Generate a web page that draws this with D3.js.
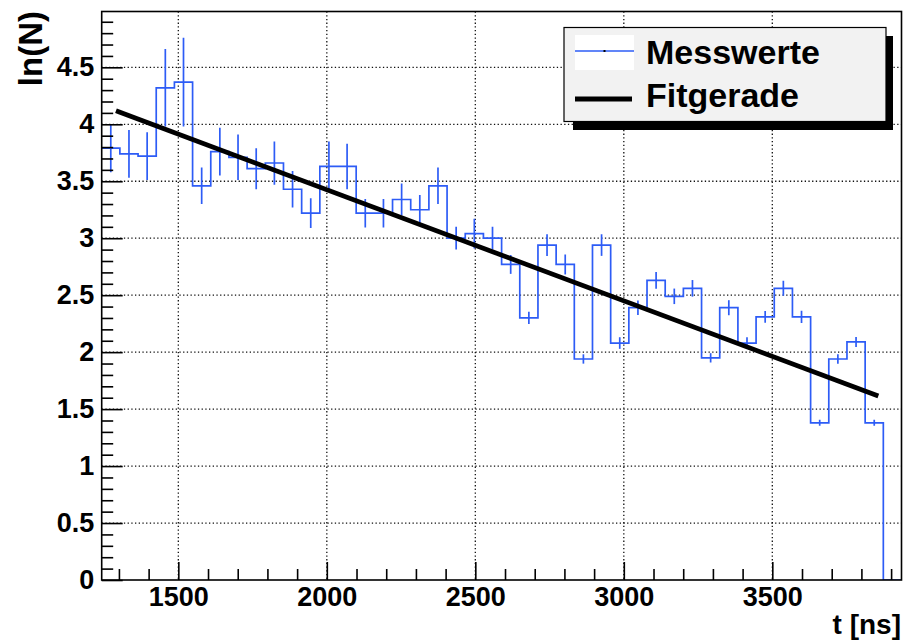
<!DOCTYPE html>
<html>
<head>
<meta charset="utf-8">
<script src="https://cdn.jsdelivr.net/npm/d3@7"></script>
<style>
  html, body { margin: 0; padding: 0; background: #fff; }
  svg { display: block; font-family: "Liberation Sans", Arial, Helvetica, sans-serif; font-weight: bold; }
</style>
</head>
<body>
<svg id="chart" width="904" height="642"></svg>
<script>
// Histogram binning: 44 equal bins between histLow and histHigh (ns)
const histLow = 1242;
const histHigh = 3935;
const nBins = 44;

// ln(N) per bin
const lnN = [
  3.79, 3.74, 3.72, 4.32, 4.37, 3.46, 3.76, 3.71, 3.61, 3.66,
  3.43, 3.22, 3.63, 3.63, 3.22, 3.22, 3.34, 3.25, 3.46, 3.00,
  3.04, 3.00, 2.77, 2.30, 2.94, 2.77, 1.94, 2.94, 2.08, 2.39,
  2.63, 2.49, 2.56, 1.95, 2.39, 2.08, 2.31, 2.56, 2.31, 1.38,
  1.94, 2.09, 1.38, 0
];

// Error of ln(N) per bin
const lnNErr = [
  0.21, 0.21, 0.21, 0.34, 0.39, 0.16, 0.21, 0.20, 0.18, 0.19,
  0.16, 0.13, 0.22, 0.20, 0.125, 0.125, 0.14, 0.13, 0.16, 0.10,
  0.13, 0.10, 0.083, 0.054, 0.095, 0.088, 0.041, 0.095, 0.051, 0.063,
  0.073, 0.068, 0.073, 0.041, 0.066, 0.051, 0.051, 0.066, 0.054, 0.026,
  0.041, 0.044, 0.026, 0
];

// Straight-line fit: end points (t in ns, ln N)
const fitT = [1290, 3857];
const fitLnN = [4.118, 1.615];

// Axis ticks
const xMajorTicks = [1500, 2000, 2500, 3000, 3500];
const yMajorTicks = [0, 0.5, 1, 1.5, 2, 2.5, 3, 3.5, 4, 4.5];
const yLabels = ["0", "0.5", "1", "1.5", "2", "2.5", "3", "3.5", "4", "4.5"];

const legendLabels = ["Messwerte", "Fitgerade"];
const xTitle = "t [ns]";
const yTitle = "ln(N)";

// ---------------------------------------------------------------
const svg = d3.select("#chart");
const frame = { left: 101.7, right: 901.5, top: 11.5, bottom: 580 };
const yMax = 4.99;

const x = d3.scaleLinear().domain([histLow, histHigh]).range([frame.left, frame.right]);
const y = d3.scaleLinear().domain([0, yMax]).range([frame.bottom, frame.top]);

const binWidth = (histHigh - histLow) / nBins;
const bins = lnN.map((v, i) => ({
  lo: histLow + i * binWidth,
  hi: histLow + (i + 1) * binWidth,
  mid: histLow + (i + 0.5) * binWidth,
  v: v,
  e: lnNErr[i]
}));

const blue = "#2d5cf6";

// Dotted grid at the major ticks
const grid = svg.append("g").attr("stroke", "#111").attr("stroke-width", 1.3)
  .attr("stroke-dasharray", "1.3,2.4");
grid.selectAll("line.gx").data(xMajorTicks).join("line")
  .attr("x1", d => x(d)).attr("x2", d => x(d))
  .attr("y1", frame.top).attr("y2", frame.bottom);
grid.selectAll("line.gy").data(yMajorTicks.filter(d => d > 0)).join("line")
  .attr("x1", frame.left).attr("x2", frame.right)
  .attr("y1", d => y(d)).attr("y2", d => y(d));

// Clip to the frame
svg.append("clipPath").attr("id", "plotclip").append("rect")
  .attr("x", frame.left).attr("y", frame.top)
  .attr("width", frame.right - frame.left).attr("height", frame.bottom - frame.top);
const plot = svg.append("g").attr("clip-path", "url(#plotclip)");

// Histogram outline (steps)
const stepPts = [];
bins.forEach(b => { stepPts.push([b.lo, b.v]); stepPts.push([b.hi, b.v]); });
plot.append("path")
  .datum(stepPts)
  .attr("fill", "none")
  .attr("stroke", blue)
  .attr("stroke-width", 1.7)
  .attr("d", d3.line().x(d => x(d[0])).y(d => y(d[1])));

// Error bars
plot.selectAll("line.err").data(bins.filter(b => b.e > 0)).join("line")
  .attr("class", "err")
  .attr("x1", b => x(b.mid)).attr("x2", b => x(b.mid))
  .attr("y1", b => y(b.v - b.e)).attr("y2", b => y(b.v + b.e))
  .attr("stroke", blue).attr("stroke-width", 1.7);

// Fit line
plot.append("path")
  .datum(fitT.map((t, i) => [t, fitLnN[i]]))
  .attr("fill", "none")
  .attr("stroke", "#000")
  .attr("stroke-width", 4.8)
  .attr("d", d3.line().x(d => x(d[0])).y(d => y(d[1])));

// Axes: ticks drawn inside the frame
const xMinorTicks = d3.range(1300, 3901, 100).filter(t => !xMajorTicks.includes(t));
const yMinorTicks = d3.range(0, 50).map(k => k / 10).filter(v => v <= yMax && !yMajorTicks.some(m => Math.abs(m - v) < 1e-9));

const gxMinor = svg.append("g").attr("transform", `translate(0,${frame.bottom})`)
  .call(d3.axisBottom(x).tickValues(xMinorTicks).tickSize(-11).tickSizeOuter(0).tickFormat(""));
const gxMajor = svg.append("g").attr("transform", `translate(0,${frame.bottom})`)
  .call(d3.axisBottom(x).tickValues(xMajorTicks).tickSize(-18).tickSizeOuter(0).tickPadding(7).tickFormat(d3.format("d")));
const gyMinor = svg.append("g").attr("transform", `translate(${frame.left},0)`)
  .call(d3.axisLeft(y).tickValues(yMinorTicks).tickSize(-11.5).tickSizeOuter(0).tickFormat(""));
const gyMajor = svg.append("g").attr("transform", `translate(${frame.left},0)`)
  .call(d3.axisLeft(y).tickValues(yMajorTicks).tickSize(-21).tickSizeOuter(0).tickPadding(7.5)
    .tickFormat((d, i) => yLabels[i]));

[gxMinor, gxMajor, gyMinor, gyMajor].forEach(g => {
  g.select(".domain").remove();
  g.selectAll(".tick line").attr("stroke", "#000").attr("stroke-width", 1.6);
  g.selectAll(".tick text").attr("fill", "#000")
    .style("font-size", "27px").style("font-weight", "bold")
    .style("font-family", "'Liberation Sans', Arial, Helvetica, sans-serif");
});

// Frame
svg.append("rect")
  .attr("x", frame.left).attr("y", frame.top)
  .attr("width", frame.right - frame.left).attr("height", frame.bottom - frame.top)
  .attr("fill", "none").attr("stroke", "#000").attr("stroke-width", 1.6);

// Axis titles
svg.append("text")
  .attr("x", 901).attr("y", 634)
  .attr("text-anchor", "end")
  .style("font-size", "28px")
  .text(xTitle);

svg.append("text")
  .attr("transform", "translate(42,11) rotate(-90)")
  .attr("text-anchor", "end")
  .style("font-size", "33px")
  .text(yTitle);

// Legend with drop shadow
const lg = svg.append("g");
lg.append("rect").attr("x", 573).attr("y", 36).attr("width", 320).attr("height", 94).attr("fill", "#000");
lg.append("rect").attr("x", 564).attr("y", 27.5).attr("width", 322).attr("height", 94)
  .attr("fill", "#f2f2f2").attr("stroke", "#000").attr("stroke-width", 1.2);

// Entry 1: histogram sample
lg.append("rect").attr("x", 575).attr("y", 35).attr("width", 59).attr("height", 35).attr("fill", "#fff");
lg.append("line").attr("x1", 575).attr("x2", 634).attr("y1", 51).attr("y2", 51)
  .attr("stroke", blue).attr("stroke-width", 1.6);
lg.append("rect").attr("x", 603.5).attr("y", 50).attr("width", 2).attr("height", 2).attr("fill", "#000");
lg.append("text").attr("x", 646).attr("y", 63.5).style("font-size", "34px").text(legendLabels[0]);

// Entry 2: fit line sample
lg.append("line").attr("x1", 575).attr("x2", 632).attr("y1", 99).attr("y2", 99)
  .attr("stroke", "#000").attr("stroke-width", 4.8);
lg.append("text").attr("x", 646).attr("y", 106.5).style("font-size", "34px").text(legendLabels[1]);
</script>
</body>
</html>
